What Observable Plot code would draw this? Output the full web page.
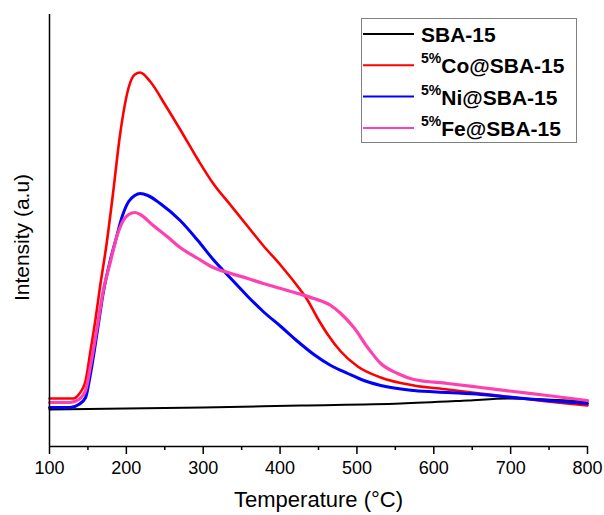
<!DOCTYPE html>
<html>
<head>
<meta charset="utf-8">
<script src="https://cdn.jsdelivr.net/npm/d3@7"></script>
<script src="https://cdn.jsdelivr.net/npm/@observablehq/plot@0.6"></script>
<style>
  html, body { margin: 0; padding: 0; background: #fff; }
  #wrap { position: relative; width: 604px; height: 515px; font-family: Arial, "Liberation Sans", sans-serif; }
  #legend { position: absolute; left: 0; top: 0; }
</style>
</head>
<body>
<div id="wrap"></div>
<script>
// Series names and colours
const seriesNames = ["SBA-15", "Co@SBA-15", "Ni@SBA-15", "Fe@SBA-15"];
const seriesSup = ["", "5%", "5%", "5%"];
const seriesColors = ["#000000", "#ff0000", "#0000ff", "#ff40b0"];

// Temperatures (°C) and intensities (a.u.)
const sbaT = [100, 300, 427, 557, 644, 696, 800];
const sbaI = [37, 39, 41, 43, 46, 48, 45];

const coT = [100, 131, 138, 147, 153, 160, 166, 174, 182, 192, 203, 211, 218, 231, 251, 270, 293, 313, 336, 358, 378, 401, 423, 436, 449, 462, 479, 501, 531, 574, 618, 661, 704, 748, 800];
const coI = [48, 48, 52, 66, 94, 128, 161, 201, 249, 313, 359, 372, 374, 365, 341, 317, 287, 263, 241, 220, 201, 181, 160, 146, 128, 112, 95, 80, 69, 61, 57, 53, 49, 45, 41];

const niT = [100, 127, 138, 147, 153, 162, 170, 179, 186, 195, 203, 211, 218, 228, 244, 270, 293, 313, 336, 358, 378, 401, 423, 444, 466, 488, 509, 531, 574, 618, 661, 704, 748, 800];
const niI = [39, 39, 42, 49, 71, 114, 154, 186, 206, 231, 245, 251, 253, 251, 243, 226, 206, 187, 168, 150, 135, 120, 105, 92, 81, 73, 66, 61, 56, 54, 52, 49, 46, 43];

const feT = [100, 127, 138, 147, 153, 162, 170, 179, 188, 196, 203, 211, 218, 235, 253, 270, 293, 313, 336, 358, 378, 401, 423, 444, 466, 479, 496, 514, 531, 553, 574, 618, 661, 704, 748, 800];
const feI = [44, 44, 47, 56, 79, 119, 156, 184, 211, 226, 232, 234, 232, 221, 210, 199, 188, 179, 173, 168, 163, 158, 153, 148, 141, 133, 119, 99, 83, 73, 67, 63, 59, 55, 51, 46];

const majorTicks = [100, 200, 300, 400, 500, 600, 700, 800];
const minorTicks = [150, 250, 350, 450, 550, 650, 750];

const toRows = (T, I) => T.map((t, i) => ({t, v: I[i]}));
const series = [toRows(sbaT, sbaI), toRows(coT, coI), toRows(niT, niI), toRows(feT, feI)];
const widths = [2, 2.6, 3, 3.2];

const chart = Plot.plot({
  width: 604,
  height: 515,
  marginLeft: 49,
  marginRight: 17,
  marginTop: 14,
  marginBottom: 69,
  style: {fontFamily: "Arial, 'Liberation Sans', sans-serif", background: "#fff", color: "#000"},
  x: {domain: [100, 800]},
  y: {domain: [0, 432], axis: null},
  marks: [
    ...series.map((rows, k) => Plot.line(rows, {x: "t", y: "v", stroke: seriesColors[k], strokeWidth: widths[k], curve: "monotone-x"})),
    Plot.axisX({ticks: minorTicks, tickSize: 4, tickFormat: () => "", label: null, strokeWidth: 1.5}),
    Plot.axisX({ticks: majorTicks, tickSize: 8, tickPadding: 7, fontSize: 18, label: null, strokeWidth: 1.5}),
    Plot.ruleY([0], {stroke: "#000", strokeWidth: 1.5}),
    Plot.ruleX([100], {stroke: "#000", strokeWidth: 1.5}),
    Plot.text(["Temperature (°C)"], {frameAnchor: "bottom", dy: 60, fontSize: 22, fill: "#000"}),
    Plot.text(["Intensity (a.u)"], {frameAnchor: "left", textAnchor: "middle", dx: -27, dy: 7, rotate: -90, fontSize: 21, fill: "#000"})
  ]
});
const wrap = document.getElementById("wrap");
wrap.appendChild(chart);

// Legend overlay
const leg = d3.select(wrap).append("svg")
  .attr("id", "legend")
  .attr("width", 604).attr("height", 515)
  .style("font-family", "Arial, 'Liberation Sans', sans-serif");
leg.append("rect").attr("x", 361.5).attr("y", 18.5).attr("width", 215).attr("height", 124)
  .attr("fill", "#fff").attr("stroke", "#808080").attr("stroke-width", 1);
seriesNames.forEach((name, i) => {
  const y = 34 + i * 31.3;
  leg.append("line").attr("x1", 363).attr("x2", 414).attr("y1", y).attr("y2", y)
    .attr("stroke", seriesColors[i]).attr("stroke-width", 2);
  const t = leg.append("text").attr("x", 421).attr("y", y + 8).attr("font-weight", "bold").attr("font-size", 21).attr("fill", "#000");
  if (seriesSup[i]) {
    t.append("tspan").attr("font-size", 14).attr("dy", -10).text(seriesSup[i]);
    t.append("tspan").attr("dy", 10).text(name);
  } else {
    t.text(name);
  }
});
</script>
</body>
</html>
